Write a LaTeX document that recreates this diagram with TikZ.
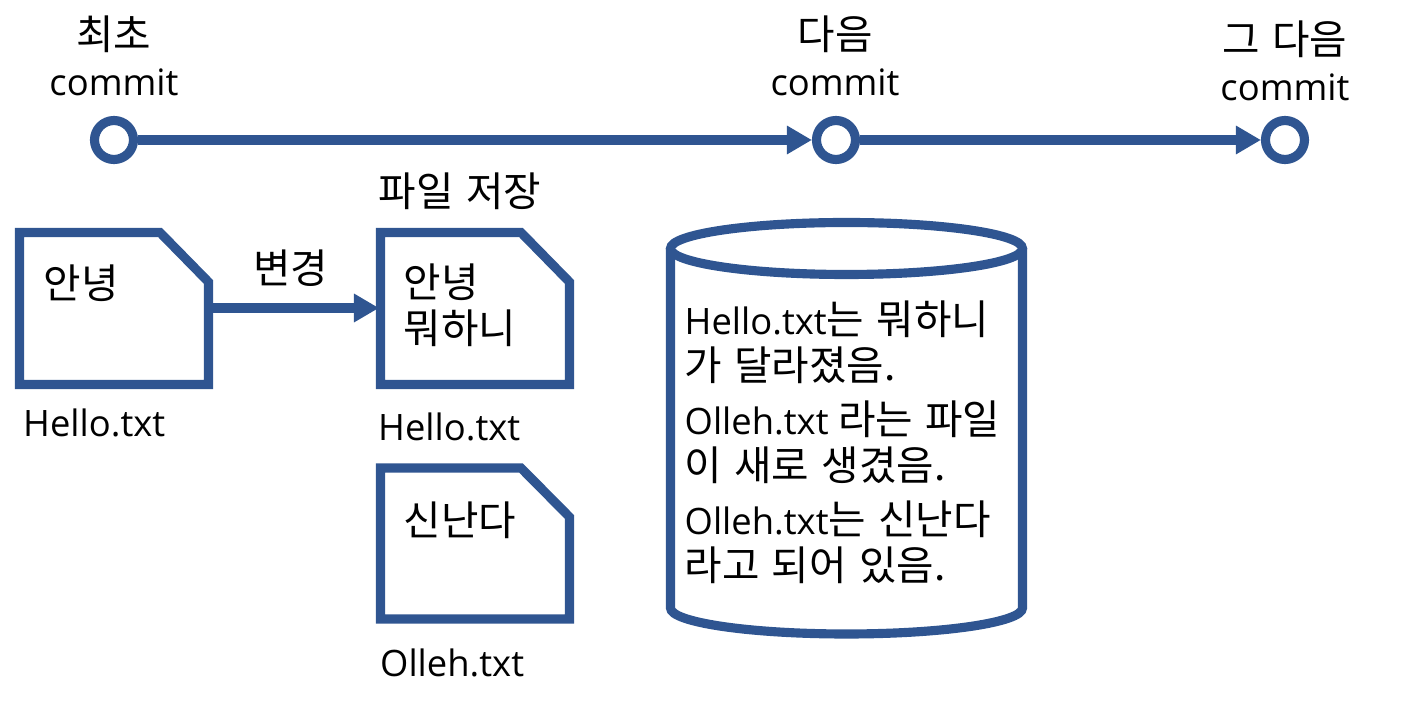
\documentclass[tikz,border=0pt]{standalone}
\usepackage{xcolor}
\usepackage{fontspec}
\setmainfont{Open Sans}
\newfontfamily\kr[Scale=1.12, WordSpace=1.35]{Noto Sans CJK KR}
\usetikzlibrary{arrows.meta}
\definecolor{gitblue}{RGB}{47, 85, 145}
\tikzset{
  commitdot/.style={circle, draw=gitblue, line width=2.6pt, fill=white, minimum size=0.39cm, inner sep=0pt},
  history/.style={draw=gitblue, line width=2.6pt, -{Triangle[length=0.25cm, width=0.27cm]}},
  outline/.style={draw=gitblue, line width=2.6pt, miter limit=10},
  label/.style={inner sep=0pt, font=\fontsize{10.35}{13.1}\selectfont, align=center},
  memo/.style={label, align=left, anchor=west}
}
\begin{document}
\begin{tikzpicture}
\useasboundingbox (0,0) rectangle (14.16,7.07);

% Commit line
\node[commitdot] (first) at (1.14,5.67) {};
\node[commitdot] (second) at (8.36,5.67) {};
\node[commitdot] (third) at (12.85,5.67) {};
\draw[history] (first) -- (second);
\draw[history] (second) -- (third);

\node[label] (firstlabel) at (1.14,6.515) {{\kr 최초}\\commit};
\node[label] (secondlabel) at (8.35,6.515) {{\kr 다음}\\commit};
\node[label] (thirdlabel) at (12.85,6.465) {{\kr 그 다음}\\commit};

% Files
\draw[outline] (0.195,4.745) -- (1.60,4.745) -- (2.085,4.25) -- (2.085,3.225) -- (0.195,3.225) -- cycle;
\draw[outline] (3.805,4.745) -- (5.21,4.745) -- (5.695,4.25) -- (5.695,3.225) -- (3.805,3.225) -- cycle;
\draw[outline] (3.805,2.39) -- (5.21,2.39) -- (5.695,1.90) -- (5.695,0.88) -- (3.805,0.88) -- cycle;

\coordinate (oldfile) at (2.13,3.99);
\coordinate (newfile) at (3.79,3.99);
\draw[history] (oldfile) -- (newfile);

\node[label] (change) at (2.91,4.39) {\kr 변경};
\node[label] (save) at (4.60,5.16) {\kr 파일 저장};
\node[memo] (oldtext) at (0.43,4.24) {\kr 안녕};
\node[memo] (newtext) at (4.03,4.02) {\kr 안녕\\\kr 뭐하니};
\node[memo] (addtext) at (4.03,1.87) {\kr 신난다};
\node[memo] (oldname) at (0.225,2.84) {Hello.txt};
\node[memo] (newname) at (3.775,2.80) {Hello.txt};
\node[memo] (addname) at (3.795,0.44) {Olleh.txt};

% Storage
\draw[outline, fill=white] (6.705,4.585) -- (6.705,0.99) arc[start angle=180, end angle=360, x radius=1.76, y radius=0.26] -- (10.225,4.585);
\draw[outline] (8.465,4.585) ellipse[x radius=1.76, y radius=0.26];

\node[memo] (changed) at (6.84,3.65) {Hello.txt{\kr 는 뭐하니}\\{\kr 가 달라졌음.}};
\node[memo] (added) at (6.84,2.65) {Olleh.txt {\kr 라는 파일}\\{\kr 이 새로 생겼음.}};
\node[memo] (content) at (6.84,1.65) {Olleh.txt{\kr 는 신난다}\\{\kr 라고 되어 있음.}};
\end{tikzpicture}
\end{document}
